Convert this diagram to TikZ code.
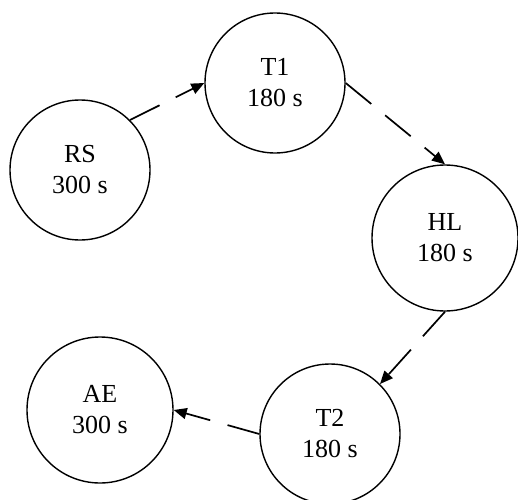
\documentclass[tikz,border=0pt]{standalone}
\usepackage{fontspec}
\setmainfont{Liberation Serif}
\usetikzlibrary{arrows.meta}
\begin{document}
\begin{tikzpicture}[x=1pt,y=1pt,
  state/.style={draw=black, line width=1.4pt, circle, inner sep=0pt, align=center,
    font=\fontsize{26}{31}\selectfont},
  link/.style={line width=1.7pt, dash pattern=on 33pt off 18pt,
    -{Triangle[length=13pt,width=11pt]}}]
\useasboundingbox (0,0) rectangle (518,499);
\node[state, minimum size=140pt] (RS) at (80,329) {RS\\300 s};
\node[state, minimum size=140pt] (T1) at (275,416) {T1\\180 s};
\node[state, minimum size=146pt] (HL) at (445,261) {HL\\180 s};
\node[state, minimum size=140pt] (T2) at (330,65) {T2\\180 s};
\node[state, minimum size=146pt] (AE) at (100,89) {AE\\300 s};
\draw[link] (RS.45) -- (T1.west);
\draw[link] (T1.east) -- (HL.north);
\draw[link] (HL.south) -- (T2.45);
\draw[link] (T2.west) -- (AE.east);
\end{tikzpicture}
\end{document}
